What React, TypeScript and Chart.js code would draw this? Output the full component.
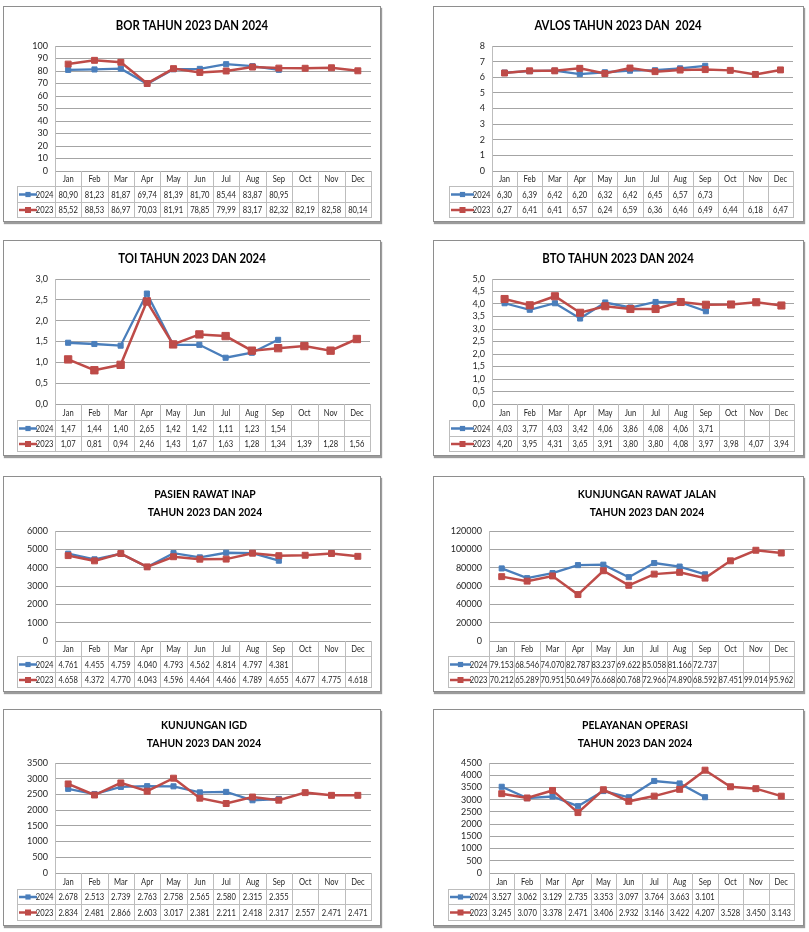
import React, { useEffect, useRef } from "react";
import { Chart, registerables } from "chart.js";

Chart.register(...registerables);

// ---------- DATA ----------
const MONTHS = ["Jan", "Feb", "Mar", "Apr", "May", "Jun", "Jul", "Aug", "Sep", "Oct", "Nov", "Dec"];
const SERIES_NAMES = ["2024", "2023"];

const BOR_2024 = [80.9, 81.23, 81.87, 69.74, 81.39, 81.7, 85.44, 83.87, 80.95];
const BOR_2023 = [85.52, 88.53, 86.97, 70.03, 81.91, 78.85, 79.99, 83.17, 82.32, 82.19, 82.58, 80.14];

const AVLOS_2024 = [6.3, 6.39, 6.42, 6.2, 6.32, 6.42, 6.45, 6.57, 6.73];
const AVLOS_2023 = [6.27, 6.41, 6.41, 6.57, 6.24, 6.59, 6.36, 6.46, 6.49, 6.44, 6.18, 6.47];

const TOI_2024 = [1.47, 1.44, 1.4, 2.65, 1.42, 1.42, 1.11, 1.23, 1.54];
const TOI_2023 = [1.07, 0.81, 0.94, 2.46, 1.43, 1.67, 1.63, 1.28, 1.34, 1.39, 1.28, 1.56];

const BTO_2024 = [4.03, 3.77, 4.03, 3.42, 4.06, 3.86, 4.08, 4.06, 3.71];
const BTO_2023 = [4.2, 3.95, 4.31, 3.65, 3.91, 3.8, 3.8, 4.08, 3.97, 3.98, 4.07, 3.94];

const RANAP_2024 = [4761, 4455, 4759, 4040, 4793, 4562, 4814, 4797, 4381];
const RANAP_2023 = [4658, 4372, 4770, 4043, 4596, 4464, 4466, 4789, 4655, 4677, 4775, 4618];

const RAJAL_2024 = [79153, 68546, 74070, 82787, 83237, 69622, 85058, 81166, 72737];
const RAJAL_2023 = [70212, 65289, 70951, 50649, 76668, 60768, 72966, 74890, 68592, 87451, 99014, 95962];

const IGD_2024 = [2678, 2513, 2739, 2763, 2758, 2565, 2580, 2315, 2355];
const IGD_2023 = [2834, 2481, 2866, 2603, 3017, 2381, 2211, 2418, 2317, 2557, 2471, 2471];

const OPS_2024 = [3527, 3062, 3129, 2735, 3353, 3097, 3764, 3663, 3101];
const OPS_2023 = [3245, 3070, 3378, 2471, 3406, 2932, 3146, 3422, 4207, 3528, 3450, 3143];

// ---------- STYLE ----------
const BLUE = "#4a7ebb";
const RED = "#be4b48";
const GRID = "#a4a4a4";
const TABLE = "#bdbdbd";
const TEXT = "#262626";
const FONT = "Lato, 'Open Sans', sans-serif";
const SX = 0.8; // horizontal compression to mimic a narrow font

type Layout = {
  box: number[]; // x, y, w, h
  plot: number[]; // l, t, r, b
  rows: number[]; // header bottom, row1 bottom, row2 bottom
  legendLeft: number;
  titleCx: number;
  titleCy: number[];
  titleSize: number;
  titleSx: number;
  redR: number;
  blueR: number;
};

type Panel = {
  title: string[];
  d24: number[];
  d23: number[];
  yMax: number;
  yStep: number;
  yDec: number;
  valDec: number;
  lay: Layout;
};

const PANELS: Panel[] = [
  {
    title: ["BOR TAHUN 2023 DAN 2024"], d24: BOR_2024, d23: BOR_2023, yMax: 100, yStep: 10, yDec: 0, valDec: 2,
    lay: { box: [3, 6, 378, 216], plot: [55, 46, 371, 171], rows: [186, 202, 217], legendLeft: 17, titleCx: 192, titleCy: [25], titleSize: 14, titleSx: 0.81, redR: 4.2, blueR: 3.6 },
  },
  {
    title: ["AVLOS TAHUN 2023 DAN  2024"], d24: AVLOS_2024, d23: AVLOS_2023, yMax: 8, yStep: 1, yDec: 0, valDec: 2,
    lay: { box: [433, 6, 371, 216], plot: [492, 46, 793, 171], rows: [186, 202, 217], legendLeft: 449, titleCx: 618, titleCy: [25], titleSize: 14, titleSx: 0.81, redR: 4.2, blueR: 3.6 },
  },
  {
    title: ["TOI TAHUN 2023 DAN 2024"], d24: TOI_2024, d23: TOI_2023, yMax: 3, yStep: 0.5, yDec: 1, valDec: 2,
    lay: { box: [3, 240, 378, 216], plot: [55, 279, 370, 404], rows: [420, 436, 451], legendLeft: 17, titleCx: 192, titleCy: [258], titleSize: 14, titleSx: 0.81, redR: 5.2, blueR: 3.6 },
  },
  {
    title: ["BTO TAHUN 2023 DAN 2024"], d24: BTO_2024, d23: BTO_2023, yMax: 5, yStep: 0.5, yDec: 1, valDec: 2,
    lay: { box: [433, 240, 371, 216], plot: [492, 279, 794, 404], rows: [420, 436, 451], legendLeft: 449, titleCx: 618, titleCy: [258], titleSize: 14, titleSx: 0.81, redR: 5, blueR: 3.6 },
  },
  {
    title: ["PASIEN RAWAT INAP", "TAHUN 2023 DAN 2024"], d24: RANAP_2024, d23: RANAP_2023, yMax: 6000, yStep: 1000, yDec: 0, valDec: 0,
    lay: { box: [3, 476, 378, 216], plot: [55, 531, 371, 641], rows: [656, 672, 687], legendLeft: 17, titleCx: 205, titleCy: [494, 512], titleSize: 12, titleSx: 0.86, redR: 4.2, blueR: 3.6 },
  },
  {
    title: ["KUNJUNGAN RAWAT JALAN", "TAHUN 2023 DAN 2024"], d24: RAJAL_2024, d23: RAJAL_2023, yMax: 120000, yStep: 20000, yDec: 0, valDec: 0,
    lay: { box: [433, 476, 371, 216], plot: [489, 531, 794, 641], rows: [656, 672, 687], legendLeft: 448, titleCx: 647, titleCy: [494, 512], titleSize: 12, titleSx: 0.86, redR: 4.2, blueR: 3.6 },
  },
  {
    title: ["KUNJUNGAN IGD", "TAHUN 2023 DAN 2024"], d24: IGD_2024, d23: IGD_2023, yMax: 3500, yStep: 500, yDec: 0, valDec: 0,
    lay: { box: [3, 709, 378, 217], plot: [55, 763, 371, 873], rows: [889, 904, 920], legendLeft: 17, titleCx: 204, titleCy: [725, 743], titleSize: 12, titleSx: 0.86, redR: 4.2, blueR: 3.6 },
  },
  {
    title: ["PELAYANAN OPERASI", "TAHUN 2023 DAN 2024"], d24: OPS_2024, d23: OPS_2023, yMax: 4500, yStep: 500, yDec: 0, valDec: 0,
    lay: { box: [433, 709, 371, 217], plot: [489, 763, 794, 873], rows: [889, 904, 920], legendLeft: 448, titleCx: 635, titleCy: [725, 743], titleSize: 12, titleSx: 0.86, redR: 4.2, blueR: 3.6 },
  },
];

function fmtDec(v: number, dec: number): string {
  return v.toFixed(dec).replace(".", ",");
}
function fmtThousand(v: number): string {
  return Math.round(v).toString().replace(/\B(?=(\d{3})+(?!\d))/g, ".");
}
function fmtValue(v: number, dec: number): string {
  return dec > 0 ? fmtDec(v, dec) : fmtThousand(v);
}

function drawText(ctx: CanvasRenderingContext2D, s: string, x: number, y: number, align: CanvasTextAlign, font: string, color: string, sx: number) {
  ctx.save();
  ctx.font = font;
  ctx.fillStyle = color;
  ctx.textBaseline = "middle";
  ctx.textAlign = align;
  ctx.translate(x, y);
  ctx.scale(sx, 1);
  ctx.fillText(s, 0, 0);
  ctx.restore();
}

function hline(ctx: CanvasRenderingContext2D, x1: number, x2: number, y: number) {
  const yy = Math.round(y) + 0.5;
  ctx.beginPath();
  ctx.moveTo(Math.round(x1), yy);
  ctx.lineTo(Math.round(x2) + 1, yy);
  ctx.stroke();
}
function vline(ctx: CanvasRenderingContext2D, x: number, y1: number, y2: number) {
  const xx = Math.round(x) + 0.5;
  ctx.beginPath();
  ctx.moveTo(xx, Math.round(y1));
  ctx.lineTo(xx, Math.round(y2) + 1);
  ctx.stroke();
}

function ChartPanel({ p }: { p: Panel }) {
  const ref = useRef<HTMLCanvasElement>(null);
  const [bx, by, bw, bh] = p.lay.box;

  useEffect(() => {
    const [pl, pt, pr, pb] = p.lay.plot;
    const [r1, r2, r3] = p.lay.rows;
    const yW = 40;
    const headerH = r1 - pb;

    const tablePlugin = {
      id: "dataTable",
      afterDraw(chart: any) {
        const ctx: CanvasRenderingContext2D = chart.ctx;
        const a = chart.chartArea;
        const xs = chart.scales.x;
        const n = MONTHS.length;
        const cw = (a.right - a.left) / n;
        const y0 = a.bottom;
        const y1 = r1 - by;
        const y2 = r2 - by;
        const y3 = r3 - by;
        const lx = p.lay.legendLeft - bx;

        ctx.save();
        ctx.strokeStyle = TABLE;
        ctx.lineWidth = 1;
        hline(ctx, lx, a.right, y1);
        hline(ctx, lx, a.right, y2);
        hline(ctx, lx, a.right, y3);
        vline(ctx, lx, y1, y3);
        for (let i = 1; i <= n; i++) {
          vline(ctx, a.left + i * cw, y0, y3);
        }
        vline(ctx, a.left, a.top, y3);
        ctx.restore();

        const valFont = `9.5px ${FONT}`;
        MONTHS.forEach((m, i) => {
          drawText(ctx, m, xs.getPixelForValue(i), (y0 + y1) / 2 + 0.5, "center", valFont, TEXT, SX);
        });

        const rowsDef = [
          { name: SERIES_NAMES[0], color: BLUE, data: p.d24, cy: (y1 + y2) / 2 + 0.5, r: 2.6 },
          { name: SERIES_NAMES[1], color: RED, data: p.d23, cy: (y2 + y3) / 2 + 0.5, r: 3 },
        ];
        rowsDef.forEach((row) => {
          const lStart = lx + 2;
          const lEnd = a.left - 18;
          ctx.save();
          ctx.strokeStyle = row.color;
          ctx.lineWidth = 2.5;
          ctx.beginPath();
          ctx.moveTo(lStart, row.cy);
          ctx.lineTo(lEnd, row.cy);
          ctx.stroke();
          ctx.fillStyle = row.color;
          const mx = (lStart + lEnd) / 2;
          ctx.fillRect(mx - row.r, row.cy - row.r, row.r * 2, row.r * 2);
          ctx.restore();
          drawText(ctx, row.name, a.left - 1.5, row.cy, "right", valFont, TEXT, SX);
          row.data.forEach((v, i) => {
            drawText(ctx, fmtValue(v, p.valDec), xs.getPixelForValue(i), row.cy, "center", valFont, TEXT, SX);
          });
        });

        const tFont = `bold ${p.lay.titleSize}px ${FONT}`;
        p.title.forEach((t, i) => {
          drawText(ctx, t, p.lay.titleCx - bx, p.lay.titleCy[i] - by, "center", tFont, "#000", p.lay.titleSx);
        });
      },
    };

    const chart = new Chart(ref.current as HTMLCanvasElement, {
      type: "line",
      data: {
        labels: MONTHS,
        datasets: [
          {
            label: SERIES_NAMES[1],
            data: p.d23,
            borderColor: RED,
            backgroundColor: RED,
            pointBackgroundColor: RED,
            pointBorderColor: RED,
            borderWidth: 2.5,
            pointStyle: "rect",
            pointRadius: p.lay.redR,
            pointBorderWidth: 1,
            tension: 0,
            fill: false,
          },
          {
            label: SERIES_NAMES[0],
            data: p.d24,
            borderColor: BLUE,
            backgroundColor: BLUE,
            pointBackgroundColor: BLUE,
            pointBorderColor: BLUE,
            borderWidth: 2.3,
            pointStyle: "rect",
            pointRadius: p.lay.blueR,
            pointBorderWidth: 1,
            tension: 0,
            fill: false,
          },
        ],
      },
      options: {
        responsive: false,
        maintainAspectRatio: false,
        animation: false,
        events: [],
        layout: {
          padding: {
            left: pl - bx - yW,
            top: pt - by,
            right: bx + bw - pr,
            bottom: by + bh - pb - headerH,
          },
        },
        plugins: {
          legend: { display: false },
          title: { display: false },
          tooltip: { enabled: false },
        },
        scales: {
          x: {
            type: "category",
            offset: true,
            grid: { display: false },
            border: { display: false },
            ticks: { display: false },
            afterFit: (s: any) => {
              s.height = headerH;
            },
          },
          y: {
            min: 0,
            max: p.yMax,
            ticks: {
              stepSize: p.yStep,
              padding: 7,
              color: TEXT,
              font: { family: FONT, size: 9 },
              autoSkip: false,
              callback: (v: any) => fmtDec(Number(v), p.yDec),
            },
            grid: { color: GRID, drawTicks: false, lineWidth: 1 },
            border: { display: false },
            afterFit: (s: any) => {
              s.width = yW;
            },
          },
        },
      },
      plugins: [tablePlugin],
    } as any);
    return () => chart.destroy();
  }, [p]);

  return (
    <>
      <div
        style={{
          position: "absolute",
          left: bx,
          top: by,
          width: bw,
          height: bh,
          boxSizing: "border-box",
          border: "1px solid #8e8e8e",
          boxShadow: "1px 2px 1px #9c9c9c",
          background: "#fff",
        }}
      />
      <canvas
        ref={ref}
        width={bw}
        height={bh}
        style={{ position: "absolute", left: bx, top: by, width: bw, height: bh }}
      />
    </>
  );
}

export default function App() {
  return (
    <div style={{ position: "absolute", left: 0, top: 0, width: 809, height: 930, background: "#fff", overflow: "hidden" }}>
      {PANELS.map((p, i) => (
        <ChartPanel key={i} p={p} />
      ))}
    </div>
  );
}
